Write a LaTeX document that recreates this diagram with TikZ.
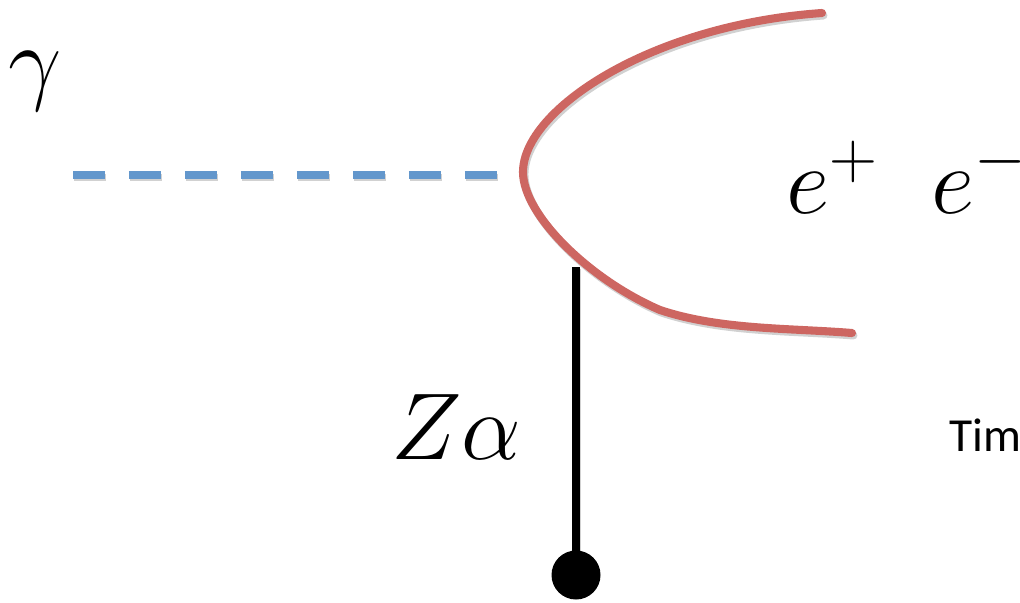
\RequirePackage{fix-cm}
\documentclass[tikz,border=0pt]{standalone}
\usepackage{fontspec}
\newfontfamily\calibri{Carlito}
\usetikzlibrary{positioning}
\definecolor{PhotonBlue}{HTML}{6397CC}
\definecolor{PairRed}{HTML}{CD6661}

\begin{document}
\begin{tikzpicture}[
  x=0.02cm, y=-0.02cm,
  shade/.style={preaction={draw=black,opacity=0.18,#1,transform canvas={xshift=0.8pt,yshift=-1.4pt}}},
  photon/.style={PhotonBlue,line width=4.5pt,dash pattern=on 0.64cm off 0.48cm,
    shade={line width=4.5pt,dash pattern=on 0.64cm off 0.48cm}},
  lepton/.style={PairRed,line width=4.6pt,line cap=round,shade={line width=4.6pt,line cap=round}},
  field/.style={black,line width=4.5pt,shade={line width=4.5pt}},
  label/.style={inner sep=0pt,anchor=base west,font=\fontsize{54}{60}\selectfont},
  nucleus/.style={circle,fill=black,minimum size=0.98cm,inner sep=0pt}
]
  \useasboundingbox (0,0) rectangle (1020,602);

  % photon line into the vertex
  \coordinate (gin) at (73,175);
  \coordinate (vtx) at (524,175);
  \draw[photon] (gin) -- (vtx);

  % pair branches
  \coordinate (pos) at (822,13);
  \coordinate (ele) at (852,333);
  \draw[lepton] (pos) .. controls (650,25) and (523,110) .. (523,172)
    .. controls (523,215) and (590,280) .. (660,310)
    .. controls (720,330) and (790,328) .. (ele);

  % nuclear field
  \node[nucleus] (nuc) at (576,575) {};
  \coordinate (ftop) at (576,267);
  \draw[field] (ftop) -- (nuc.center);

  % labels
  \node[label] (gam) at (8,92) {$\gamma$};
  \node[label] (pair) at (786,213) {$e^{+}\hspace{0.56em}e^{-}$};
  \node[label] (za) at (391,459) {$Z\alpha$};
  \node[inner sep=0pt,anchor=base west,font=\calibri\fontsize{27}{32}\selectfont] (tim) at (949,451) {Tim};
\end{tikzpicture}
\end{document}
